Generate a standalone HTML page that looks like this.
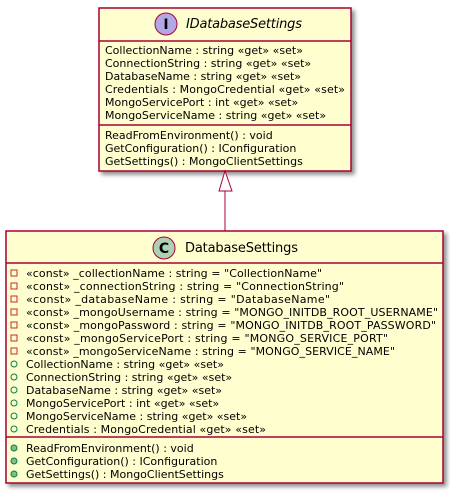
<!DOCTYPE html>
<html><head><meta charset="utf-8"><style>
html,body{margin:0;padding:0;background:#fff;}
svg{display:block;}
text{font-family:"DejaVu Sans","Liberation Sans",sans-serif;font-size:11px;fill:#000;}
</style></head><body>
<svg width="454" height="493" viewBox="0 0 454 493" xmlns="http://www.w3.org/2000/svg">
<defs><filter id="sh" x="-5%" y="-5%" width="115%" height="115%"><feGaussianBlur in="SourceAlpha" stdDeviation="2"/><feOffset dx="3" dy="3"/><feComponentTransfer><feFuncA type="linear" slope="0.45"/></feComponentTransfer><feMerge><feMergeNode/><feMergeNode in="SourceGraphic"/></feMerge></filter></defs>
<!-- interface -->
<rect x="99" y="8" width="252" height="163" fill="#FEFECE" stroke="#A80036" stroke-width="1.5" filter="url(#sh)"/>
<line x1="99" y1="41" x2="351" y2="41" stroke="#A80036" stroke-width="1.5"/>
<line x1="99" y1="125" x2="351" y2="125" stroke="#A80036" stroke-width="1.5"/>
<circle cx="166" cy="24" r="11" fill="#B4A7E5" stroke="#A80036" stroke-width="1"/>
<text x="166" y="29" text-anchor="middle" style="font-size:14px;font-weight:bold">I</text>
<text x="186" y="28" style="font-size:13px;font-style:italic" textLength="116">IDatabaseSettings</text>
<text x="105" y="54">CollectionName : string «get» «set»</text>
<text x="105" y="67">ConnectionString : string «get» «set»</text>
<text x="105" y="80">DatabaseName : string «get» «set»</text>
<text x="105" y="93" textLength="240">Credentials : MongoCredential «get» «set»</text>
<text x="105" y="106">MongoServicePort : int «get» «set»</text>
<text x="105" y="119">MongoServiceName : string «get» «set»</text>
<text x="105" y="139">ReadFromEnvironment() : void</text>
<text x="105" y="152">GetConfiguration() : IConfiguration</text>
<text x="105" y="165">GetSettings() : MongoClientSettings</text>
<!-- arrow -->
<line x1="225" y1="191" x2="225" y2="231" stroke="#A80036" stroke-width="1"/>
<polygon points="225,171 219,191 232,191" fill="#fff" stroke="#A80036" stroke-width="1"/>
<!-- class -->
<rect x="6" y="231" width="437" height="252" fill="#FEFECE" stroke="#A80036" stroke-width="1.5" filter="url(#sh)"/>
<line x1="6" y1="263" x2="443" y2="263" stroke="#A80036" stroke-width="1.5"/>
<line x1="6" y1="437" x2="443" y2="437" stroke="#A80036" stroke-width="1.5"/>
<circle cx="164" cy="248" r="11" fill="#ADD1B2" stroke="#A80036" stroke-width="1"/>
<text x="164" y="253" text-anchor="middle" style="font-size:14px;font-weight:bold">C</text>
<text x="185" y="252" style="font-size:13px" textLength="113">DatabaseSettings</text>
<g fill="none" stroke="#C82930" stroke-width="1">
<rect x="11" y="270" width="6" height="6"/><rect x="11" y="283" width="6" height="6"/><rect x="11" y="296" width="6" height="6"/><rect x="11" y="309" width="6" height="6"/><rect x="11" y="322" width="6" height="6"/><rect x="11" y="335" width="6" height="6"/><rect x="11" y="348" width="6" height="6"/>
</g>
<g fill="none" stroke="#038048" stroke-width="1">
<circle cx="14" cy="364" r="3"/><circle cx="14" cy="377" r="3"/><circle cx="14" cy="390" r="3"/><circle cx="14" cy="403" r="3"/><circle cx="14" cy="416" r="3"/><circle cx="14" cy="429" r="3"/>
</g>
<g fill="#84BE84" stroke="#038048" stroke-width="1">
<circle cx="14" cy="448" r="3"/><circle cx="14" cy="461" r="3"/><circle cx="14" cy="474" r="3"/>
</g>
<text x="26" y="277" textLength="296">«const» _collectionName : string = "CollectionName"</text>
<text x="26" y="290" textLength="318">«const» _connectionString : string = "ConnectionString"</text>
<text x="26" y="303" textLength="304">«const» _databaseName : string = "DatabaseName"</text>
<text x="26" y="316" textLength="412">«const» _mongoUsername : string = "MONGO_INITDB_ROOT_USERNAME"</text>
<text x="26" y="329" textLength="410">«const» _mongoPassword : string = "MONGO_INITDB_ROOT_PASSWORD"</text>
<text x="26" y="342" textLength="362">«const» _mongoServicePort : string = "MONGO_SERVICE_PORT"</text>
<text x="26" y="355" textLength="369">«const» _mongoServiceName : string = "MONGO_SERVICE_NAME"</text>
<text x="26" y="368">CollectionName : string «get» «set»</text>
<text x="26" y="381">ConnectionString : string «get» «set»</text>
<text x="26" y="394">DatabaseName : string «get» «set»</text>
<text x="26" y="407">MongoServicePort : int «get» «set»</text>
<text x="26" y="420">MongoServiceName : string «get» «set»</text>
<text x="26" y="433" textLength="240">Credentials : MongoCredential «get» «set»</text>
<text x="26" y="452">ReadFromEnvironment() : void</text>
<text x="26" y="465">GetConfiguration() : IConfiguration</text>
<text x="26" y="478">GetSettings() : MongoClientSettings</text>
</svg>
</body></html>
